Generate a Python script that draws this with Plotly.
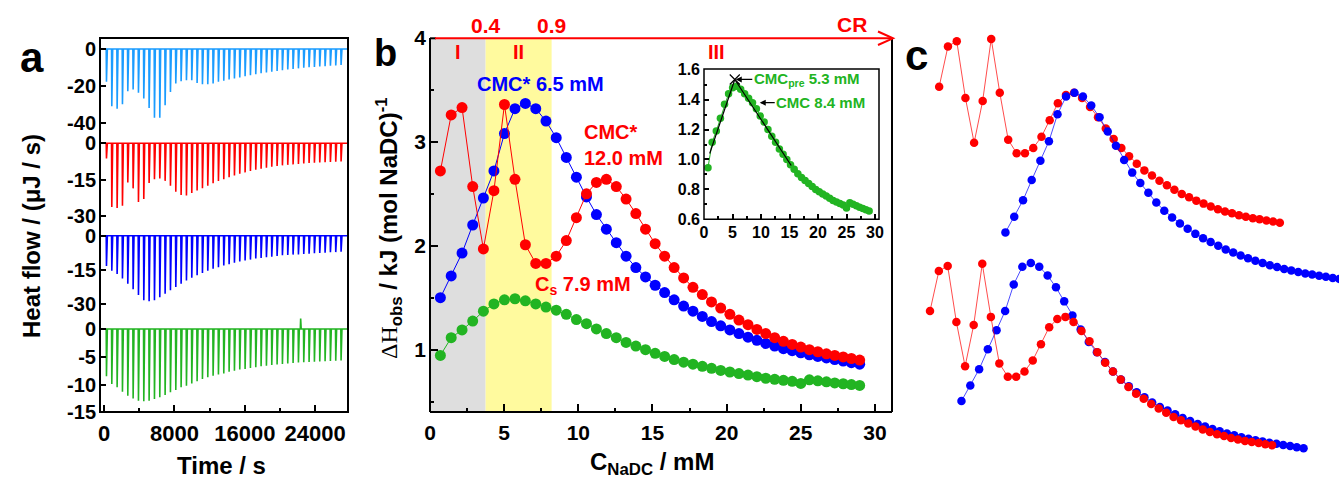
import plotly.graph_objects as go

W, H = 1339, 480
def fx(p): return p / W
def fy(p): return 1 - p / H

FONT = "Liberation Sans, Arial, sans-serif"
RED = "#ff0000"; BLUE = "#0000ff"; GREEN = "#22b422"; LBLUE = "#1a9cff"

# ---------------- Panel a: ITC thermograms ----------------
inj_time = [250, 856, 1462, 2068, 2674, 3280, 3886, 4492, 5098, 5704, 6310, 6916, 7522,
            8128, 8734, 9340, 9946, 10552, 11158, 11764, 12370, 12976, 13582, 14188, 14794,
            15400, 16006, 16612, 17218, 17824, 18430, 19036, 19642, 20248, 20854, 21460,
            22066, 22672, 23278, 23884, 24490, 25096, 25702, 26308, 26914]
peak_lblue = [17.8, 31.1, 32.4, 30.0, 22.9, 22.0, 23.8, 26.9, 32.0, 37.3, 37.3, 30.5, 23.3,
              18.7, 17.5, 16.9, 16.9, 18.4, 19.1, 19.1, 18.7, 17.8, 17.2, 16.6, 16.0, 15.4,
              14.8, 14.2, 13.7, 13.2, 12.7, 12.3, 11.9, 11.5, 11.1, 10.8, 10.5, 10.2, 9.9,
              9.7, 9.5, 9.3, 9.1, 8.9, 8.7]
peak_red = [6.3, 26.3, 26.7, 25.8, 16.2, 18.6, 24.2, 23.0, 16.4, 14.8, 14.5, 15.5, 17.5,
            20.0, 21.3, 21.5, 20.5, 19.5, 18.5, 17.5, 16.5, 15.6, 14.8, 14.0, 13.3, 12.6,
            12.0, 11.4, 10.9, 10.5, 10.1, 9.7, 9.4, 9.1, 8.9, 8.7, 8.5, 8.3, 8.1, 8.0, 7.9,
            7.8, 7.7, 7.6, 7.5]
peak_blue = [13.3, 15.4, 16.8, 18.8, 21.1, 23.5, 26.0, 28.3, 28.8, 28.3, 27.0, 25.5, 24.0,
             22.5, 21.1, 19.7, 18.5, 17.4, 16.4, 15.4, 14.5, 13.8, 13.1, 12.5, 11.9, 11.3,
             10.9, 10.5, 10.0, 9.8, 9.5, 9.2, 8.9, 8.6, 8.5, 8.3, 8.2, 8.0, 7.9, 7.7, 7.6,
             7.5, 7.3, 7.2, 7.0]
peak_green = [8.5, 9.9, 10.5, 11.3, 12.0, 12.5, 12.9, 13.0, 12.9, 12.6, 12.3, 11.9, 11.4,
              11.0, 10.5, 10.2, 9.8, 9.4, 9.0, 8.7, 8.4, 8.2, 8.0, 7.7, 7.5, 7.3, 7.2, 7.0,
              6.9, 6.7, 6.6, 6.5, 6.4, 6.3, 6.2, 6.1, 6.05, 6.0, 5.95, 5.9, 5.85, 5.8, 5.75,
              5.7, 5.65]
green_blip_time = 22350
green_blip_height = 1.9
time_ticks = [0, 8000, 16000, 24000]

# ---------------- Panel b: enthalpy curves ----------------
conc = [0.70, 1.43, 2.16, 2.88, 3.60, 4.31, 5.02, 5.73, 6.43, 7.13, 7.82, 8.51, 9.19, 9.87,
        10.55, 11.22, 11.89, 12.56, 13.22, 13.88, 14.53, 15.18, 15.82, 16.46, 17.10, 17.73,
        18.36, 18.98, 19.60, 20.22, 20.83, 21.44, 22.04, 22.64, 23.24, 23.83, 24.42, 25.00,
        25.58, 26.15, 26.73, 27.29, 27.86, 28.41, 28.97]
dh_red = [2.72, 3.26, 3.33, 2.57, 1.97, 2.53, 3.36, 2.64, 2.01, 1.83, 1.83, 1.90, 2.05, 2.27,
          2.50, 2.61, 2.64, 2.57, 2.45, 2.31, 2.16, 2.02, 1.90, 1.79, 1.69, 1.60, 1.53, 1.46,
          1.40, 1.34, 1.285, 1.24, 1.195, 1.155, 1.115, 1.08, 1.05, 1.025, 1.00, 0.98, 0.96,
          0.945, 0.93, 0.915, 0.90]
dh_blue = [1.50, 1.71, 1.93, 2.20, 2.46, 2.72, 3.08, 3.32, 3.37, 3.32, 3.20, 3.04, 2.85, 2.66,
           2.47, 2.30, 2.16, 2.03, 1.90, 1.79, 1.70, 1.62, 1.55, 1.48, 1.42, 1.37, 1.32, 1.27,
           1.23, 1.19, 1.155, 1.12, 1.09, 1.06, 1.035, 1.01, 0.99, 0.97, 0.95, 0.935, 0.92,
           0.905, 0.89, 0.875, 0.86]
dh_green = [0.945, 1.115, 1.19, 1.275, 1.37, 1.44, 1.48, 1.49, 1.47, 1.44, 1.41, 1.38, 1.34,
            1.29, 1.25, 1.20, 1.155, 1.115, 1.07, 1.035, 1.00, 0.965, 0.935, 0.905, 0.88,
            0.86, 0.84, 0.82, 0.80, 0.785, 0.77, 0.755, 0.74, 0.725, 0.715, 0.705, 0.695,
            0.675, 0.71, 0.70, 0.69, 0.68, 0.672, 0.664, 0.656]
region_bounds = [3.75, 8.2]          # CR = 0.4 and 0.9
region_bound_labels = ["0.4", "0.9"]
region_names = ["I", "II", "III"]
region_centers = [1.87, 6.0, 19.3]

# inset: tangent construction
tan1_x = [1.0, 5.4]; tan1_y = [1.04, 1.535]
tan2_x = [5.4, 15.3]; tan2_y = [1.535, 0.96]
cmc_pre = 5.4; cmc_pre_dh = 1.535
cmc_point = 9.6; cmc_point_dh = 1.38

# ---------------- Panel c: shifted curves ----------------
cmc_star_red = 12.0
cmc_star_blue = 6.5
dh_peak_red = 2.64
dh_peak_blue = 3.37
shift_blue_bottom = 2.6

fig = go.Figure()

def spike_line(times, depths):
    xs, ys = [-250], [0]
    for t, d in zip(times, depths):
        xs += [t, t + 30, t + 130]
        ys += [0, -d, 0]
    xs.append(27700); ys.append(0)
    return xs, ys

for yax, peaks, col in [("y", peak_lblue, LBLUE), ("y2", peak_red, RED),
                        ("y3", peak_blue, BLUE), ("y4", peak_green, GREEN)]:
    xs, ys = spike_line(inj_time, peaks)
    fig.add_trace(go.Scatter(x=xs, y=ys, mode="lines", line=dict(color=col, width=1.6),
                             xaxis="x", yaxis=yax, hoverinfo="skip"))
fig.add_trace(go.Scatter(x=[green_blip_time - 40, green_blip_time, green_blip_time + 60],
                         y=[0, green_blip_height, 0], mode="lines",
                         line=dict(color=GREEN, width=1.6), xaxis="x", yaxis="y4"))

# panel b
for ys, col in [(dh_green, GREEN), (dh_blue, BLUE), (dh_red, RED)]:
    fig.add_trace(go.Scatter(x=conc, y=ys, mode="lines+markers",
                             line=dict(color=col, width=1),
                             marker=dict(color=col, size=11),
                             xaxis="x5", yaxis="y5"))
# inset
fig.add_trace(go.Scatter(x=conc, y=dh_green, mode="lines+markers",
                         line=dict(color=GREEN, width=1), marker=dict(color=GREEN, size=7.5),
                         xaxis="x6", yaxis="y6"))
for tx, ty in [(tan1_x, tan1_y), (tan2_x, tan2_y)]:
    fig.add_trace(go.Scatter(x=tx, y=ty, mode="lines", line=dict(color="black", width=1.2),
                             xaxis="x6", yaxis="y6"))
fig.add_trace(go.Scatter(x=[cmc_pre], y=[cmc_pre_dh], mode="markers",
                         marker=dict(symbol="x-thin", size=10, line=dict(color="black", width=1.2)),
                         xaxis="x6", yaxis="y6"))

# panel c top: aligned at CMC*
fig.add_trace(go.Scatter(x=[c - cmc_star_red for c in conc], y=[d - dh_peak_red for d in dh_red],
                         mode="lines+markers", line=dict(color="rgba(255,0,0,0.7)", width=1),
                         marker=dict(color=RED, size=8.5), xaxis="x7", yaxis="y7"))
fig.add_trace(go.Scatter(x=[c - cmc_star_blue for c in conc], y=[d - dh_peak_blue for d in dh_blue],
                         mode="lines+markers", line=dict(color="rgba(0,0,255,0.7)", width=1),
                         marker=dict(color=BLUE, size=8.5), xaxis="x7", yaxis="y7"))
# panel c bottom
fig.add_trace(go.Scatter(x=[c + shift_blue_bottom for c in conc], y=dh_blue,
                         mode="lines+markers", line=dict(color="rgba(0,0,255,0.7)", width=1),
                         marker=dict(color=BLUE, size=8.5), xaxis="x8", yaxis="y8"))
fig.add_trace(go.Scatter(x=conc, y=dh_red,
                         mode="lines+markers", line=dict(color="rgba(255,0,0,0.7)", width=1),
                         marker=dict(color=RED, size=8.5), xaxis="x8", yaxis="y8"))

common = dict(showgrid=False, zeroline=False, showline=False, ticks="inside",
              tickcolor="black", tickwidth=1.5, automargin=False)
tf_a = dict(family=FONT, size=20, color="black", weight="bold")
tf_b = dict(family=FONT, size=21, color="black", weight="bold")
tf_i = dict(family=FONT, size=16, color="black", weight="bold")
hidden = dict(visible=False, automargin=False, showgrid=False, zeroline=False)

def ya(dom, rng, vals):
    return dict(domain=dom, range=rng, tickvals=vals, ticktext=[str(v) for v in vals],
                ticklen=6, tickfont=tf_a, anchor="x", ticklabelstandoff=3, **common)

layout = dict(
    width=W, height=H, margin=dict(l=0, r=0, t=0, b=0, pad=0, autoexpand=False),
    paper_bgcolor="white", plot_bgcolor="rgba(0,0,0,0)", showlegend=False,
    font=dict(family=FONT, color="black"),
    xaxis=dict(domain=[fx(100), fx(348)], range=[-455, 27730], anchor="y4",
               tickvals=time_ticks, ticktext=[str(v) for v in time_ticks], ticklen=7,
               minor=dict(ticks="inside", ticklen=4, dtick=4000, tick0=0, tickcolor="black"),
               tickfont=dict(family=FONT, size=22, color="black", weight="bold"),
               ticklabelstandoff=6, **common),
    yaxis=ya([fy(133), fy(38)], [-45.59, 5.97], [0, -20, -40]),
    yaxis2=ya([fy(226), fy(133)], [-34.13, 4.25], [0, -15, -30]),
    yaxis3=ya([fy(318), fy(226)], [-36.15, 4.26], [0, -15, -30]),
    yaxis4=ya([fy(412.3), fy(318)], [-15, 1.98], [0, -5, -10, -15]),
    xaxis5=dict(domain=[fx(430), fx(892)], range=[0, 31.15], anchor="y5", dtick=5, tick0=0,
                ticklen=8, minor=dict(ticks="inside", ticklen=4, dtick=2.5, tickcolor="black"),
                tickfont=tf_b, ticklabelstandoff=6, **common),
    yaxis5=dict(domain=[fy(412), fy(38)], range=[0.4, 4], anchor="x5", dtick=1, tick0=0,
                ticklen=8, minor=dict(ticks="inside", ticklen=4, dtick=0.5, tickcolor="black"),
                tickfont=tf_b, ticklabelstandoff=3, **common),
    xaxis6=dict(domain=[fx(704), fx(879)], range=[0, 30.7], anchor="y6", dtick=5, tick0=0,
                ticklen=5, minor=dict(ticks="inside", ticklen=3, dtick=2.5, tickcolor="black"),
                tickfont=tf_i, ticklabelstandoff=2, **common),
    yaxis6=dict(domain=[fy(219.3), fy(69)], range=[0.6, 1.605], anchor="x6", dtick=0.2, tick0=0,
                tickformat=".1f", ticklen=5,
                minor=dict(ticks="inside", ticklen=3, dtick=0.1, tickcolor="black"),
                tickfont=tf_i, ticklabelstandoff=3, **common),
    xaxis7=dict(domain=[fx(900), 1], range=[-14.55, 21.88], anchor="y7", **hidden),
    yaxis7=dict(domain=[0, 1], range=[-5.185, 1.241], anchor="x7", **hidden),
    xaxis8=dict(domain=[fx(900), 1], range=[-1.78, 34.5], anchor="y8", **hidden),
    yaxis8=dict(domain=[0, 1], range=[0.43, 6.933], anchor="x8", **hidden),
)

shapes = []
shapes.append(dict(type="rect", xref="x5", yref="y5 domain", x0=0, x1=region_bounds[0], y0=0, y1=1,
                   fillcolor="#dedede", line=dict(width=0), layer="below"))
shapes.append(dict(type="rect", xref="x5", yref="y5 domain", x0=region_bounds[0], x1=region_bounds[1],
                   y0=0, y1=1, fillcolor="#fffa9e", line=dict(width=0), layer="below"))
def pline(x0, y0, x1, y1, color="black", width=2):
    shapes.append(dict(type="line", xref="paper", yref="paper", x0=fx(x0), y0=fy(y0),
                       x1=fx(x1), y1=fy(y1), line=dict(color=color, width=width)))
shapes.append(dict(type="rect", xref="paper", yref="paper", x0=fx(100), x1=fx(348),
                   y0=fy(412), y1=fy(38), line=dict(color="black", width=2)))
pline(430, 38, 430, 412); pline(430, 412, 892, 412); pline(892, 38, 892, 412)
pline(430, 38.3, 436, 38.3)
pline(435, 38.3, 892, 38.3, RED, 2)
shapes.append(dict(type="path", xref="paper", yref="paper",
                   path=f"M {fx(878)},{fy(31.5)} L {fx(893)},{fy(38.3)} L {fx(878)},{fy(45)}",
                   line=dict(color=RED, width=2)))
shapes.append(dict(type="rect", xref="paper", yref="paper", x0=fx(704), x1=fx(879),
                   y0=fy(219.3), y1=fy(69), line=dict(color="black", width=1.5)))
layout["shapes"] = shapes

ann = []
def A(text, x, y, size, color="black", xref="paper", yref="paper", xanchor="center",
      yanchor="middle", angle=0, align="center"):
    ann.append(dict(text=text, x=x, y=y, xref=xref, yref=yref, xanchor=xanchor, yanchor=yanchor,
                    textangle=angle, showarrow=False, align=align,
                    font=dict(family=FONT, size=size, color=color, weight="bold")))

A("a", fx(31.7), fy(57), 42)
A("b", fx(385), fy(53), 38)
A("c", fx(916), fy(55), 42)
A("Heat flow / (μJ / s)", fx(31), fy(236), 24, angle=-90)
A("Time / s", fx(221.7), fy(465), 24)
A("<span style='font-family:Liberation Serif;font-weight:normal'>ΔH</span><sub>obs</sub> / kJ (mol NaDC)<sup>-1</sup>",
  fx(389), fy(228), 24, angle=-90)
A("C<sub>NaDC</sub> / mM", fx(652), fy(463), 24)
for xb, lab in zip(region_bounds, region_bound_labels):
    A(lab, xb, fy(25.7), 21, RED, xref="x5")
A("CR", fx(852), fy(24.7), 21, RED)
for xc, lab in zip(region_centers, region_names):
    A(lab, xc, fy(51.7), 20, RED, xref="x5")
A("CMC* 6.5 mM", fx(540), fy(84.3), 20, BLUE)
A("CMC*<br>12.0 mM", fx(581.5), fy(145), 20, RED, xanchor="left", align="left")
A("C<sub>s</sub> 7.9 mM", fx(533), fy(285), 20, RED, xanchor="left")
for txt, xp, yp, axp in [("CMC<sub>pre</sub> 5.3 mM", cmc_pre, cmc_pre_dh, 72),
                         ("CMC 8.4 mM", cmc_point, cmc_point_dh, 62)]:
    ann.append(dict(text=txt, x=xp, y=yp, xref="x6", yref="y6", ax=axp, ay=0,
                    showarrow=True, arrowhead=2, arrowsize=1, arrowwidth=1.2,
                    arrowcolor="black", standoff=1,
                    font=dict(family=FONT, size=15, color=GREEN, weight="bold")))
layout["annotations"] = ann

fig.update_layout(**layout)
fig.write_html("out.html", config={"displayModeBar": False},
               post_script="document.body.style.margin='0px';document.body.style.padding='0px';")
